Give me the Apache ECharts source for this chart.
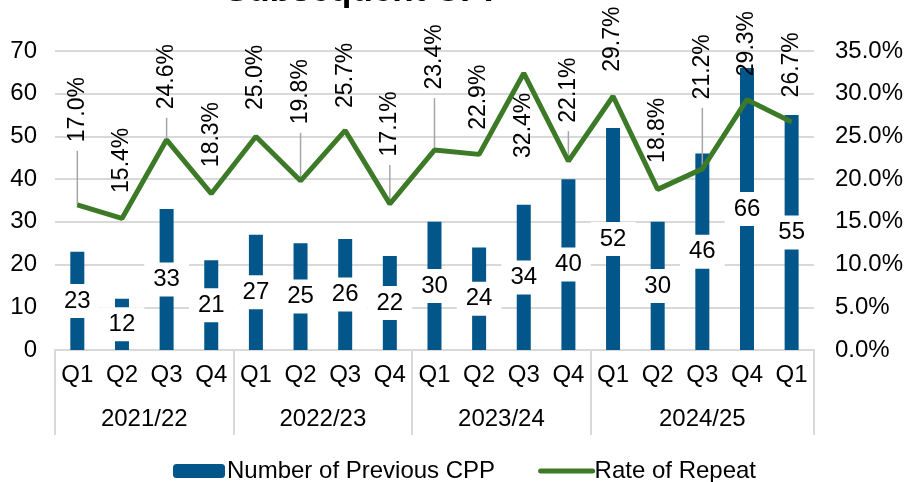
<!DOCTYPE html>
<html>
<head>
<meta charset="utf-8">
<script src="https://cdn.jsdelivr.net/npm/echarts@6/dist/echarts.min.js"></script>
<style>
  html, body { margin: 0; padding: 0; background: #fff; }
  #view { width: 906px; height: 482px; }
</style>
</head>
<body>
<div id="view"></div>
<script>
var quarters = ['Q1', 'Q2', 'Q3', 'Q4', 'Q1', 'Q2', 'Q3', 'Q4', 'Q1', 'Q2', 'Q3', 'Q4', 'Q1', 'Q2', 'Q3', 'Q4', 'Q1'];
var years = ['2021/22', '2022/23', '2023/24', '2024/25'];
var cppCount = [23, 12, 33, 21, 27, 25, 26, 22, 30, 24, 34, 40, 52, 30, 46, 66, 55];
var repeatRate = [17.0, 15.4, 24.6, 18.3, 25.0, 19.8, 25.7, 17.1, 23.4, 22.9, 32.4, 22.1, 29.7, 18.8, 21.2, 29.3, 26.7];

// gap (px) between point and its rotated label, negative = below the point
var labelGap = [62, 25, 30, 26, 26, 56, 22, 47, 60, 24, -19, 38, 24, 26, 69, 23, 24];

var FONT = 'Liberation Sans, Arial, sans-serif';
var FS = 24;
var myChart = echarts.init(document.getElementById('view'));

var lineData = repeatRate.map(function (v, i) {
    var g = labelGap[i];
    return {
        value: v / 100,
        label: g < 0
            ? {position: 'bottom', distance: -g, align: 'right'}
            : {position: 'top', distance: g, align: 'left'}
    };
});

var leaderData = repeatRate.map(function (v, i) {
    return [i, v / 100, labelGap[i]];
});

var option = {
    backgroundColor: '#fff',
    animation: false,
    // title sits mostly above the visible area, only its lower edge shows
    graphic: [{
        type: 'text',
        x: 225,
        y: -9,
        style: {
            text: 'Subsequent CPP',
            font: 'bold 35px Liberation Sans, Arial, sans-serif',
            fill: '#000',
            verticalAlign: 'middle'
        }
    }],
    legend: {
        data: ['Number of Previous CPP', {
            name: 'Rate of Repeat',
            itemStyle: {opacity: 0},
            lineStyle: {width: 5, cap: 'round'}
        }],
        left: 168,
        top: 454,
        itemWidth: 52,
        itemHeight: 14,
        itemGap: 43,
        textStyle: {fontFamily: FONT, fontSize: FS, color: '#000', padding: [0, 0, 0, -3]}
    },
    grid: {left: 55, right: 89, top: 51, bottom: 132},
    xAxis: [{
        type: 'category',
        data: quarters,
        axisLine: {lineStyle: {color: '#d9d9d9', width: 2}},
        axisTick: {show: false},
        axisLabel: {fontFamily: FONT, fontSize: FS, color: '#000', margin: 13, interval: 0}
    }, {
        type: 'value',
        position: 'bottom',
        min: 0,
        max: 17,
        axisLine: {show: false},
        splitLine: {show: false},
        axisTick: {
            show: true,
            customValues: [0, 4, 8, 12, 17],
            length: 85,
            lineStyle: {color: '#d9d9d9', width: 2}
        },
        axisLabel: {
            customValues: [2, 6, 10, 14.5],
            fontFamily: FONT, fontSize: FS, color: '#000', margin: 57,
            formatter: function (v) {
                return years[[2, 6, 10, 14.5].indexOf(v)] || '';
            }
        }
    }],
    yAxis: [{
        type: 'value',
        min: 0,
        max: 70,
        interval: 10,
        axisLine: {show: false},
        axisTick: {show: false},
        splitLine: {lineStyle: {color: '#d9d9d9', width: 2}},
        axisLabel: {fontFamily: FONT, fontSize: FS, color: '#000', margin: 18}
    }, {
        type: 'value',
        min: 0,
        max: 0.35,
        interval: 0.05,
        axisLine: {show: false},
        axisTick: {show: false},
        splitLine: {show: false},
        axisLabel: {
            fontFamily: FONT, fontSize: FS, color: '#000', margin: 21,
            formatter: function (v) { return (v * 100).toFixed(1) + '%'; }
        }
    }],
    series: [{
        name: 'Number of Previous CPP',
        type: 'bar',
        data: cppCount,
        barWidth: 14,
        itemStyle: {color: '#02568a'},
        label: {
            show: true,
            position: 'inside',
            fontFamily: FONT,
            fontSize: FS,
            color: '#000',
            backgroundColor: '#fff',
            padding: [5, 9]
        },
        z: 2
    }, {
        name: 'leader',
        type: 'custom',
        yAxisIndex: 1,
        data: leaderData,
        silent: true,
        z: 3,
        renderItem: function (params, api) {
            var gap = api.value(2);
            if (gap < 30) return null;
            var p = api.coord([api.value(0), api.value(1)]);
            return {
                type: 'line',
                shape: {x1: p[0], y1: p[1], x2: p[0], y2: p[1] - gap + 8},
                style: {stroke: '#a6a6a6', lineWidth: 1.5}
            };
        }
    }, {
        name: 'Rate of Repeat',
        type: 'line',
        yAxisIndex: 1,
        data: lineData,
        symbol: 'circle',
        symbolSize: 1,
        lineStyle: {color: '#3c7a27', width: 5},
        itemStyle: {color: '#3c7a27'},
        label: {
            show: true,
            rotate: 90,
            verticalAlign: 'middle',
            fontFamily: FONT,
            fontSize: 23,
            color: '#000',
            formatter: function (p) { return (p.value * 100).toFixed(1) + '%'; }
        },
        z: 4
    }]
};
myChart.setOption(option);
</script>
</body>
</html>
